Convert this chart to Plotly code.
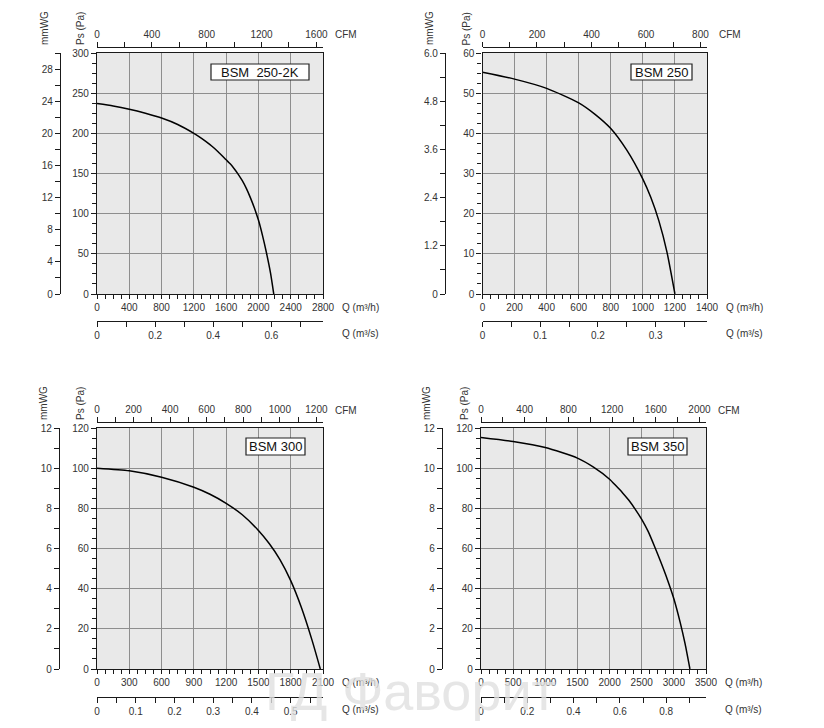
import plotly.graph_objects as go

# The page body has an 8 px margin, so the figure is drawn 8 px in from the
# window's top-left corner; all pixel positions below are window pixels.
OFF = 8
W, H = 824 - OFF, 728 - OFF
FONT = "Liberation Sans, Arial, sans-serif"

# ---------------- data ----------------
model_names = ["BSM\u00a0 250-2K", "BSM 250", "BSM 300", "BSM 350"]

q_250_2k = [0, 200, 400, 600, 800, 1000, 1200, 1300, 1400, 1450, 1500, 1550, 1600, 1650,
            1700, 1750, 1800, 1850, 1900, 1950, 2000, 2050, 2100, 2150, 2190]
p_250_2k = [237, 234, 230, 225, 219, 211, 200, 193.5, 186, 181.7, 177, 172.2, 167, 162,
            156, 149, 141, 131.5, 120, 107, 92, 73, 51, 26, 0]

q_250 = [0, 200, 400, 600, 700, 800, 900, 1000, 1050, 1100, 1150, 1200]
p_250 = [55.2, 53.5, 51.2, 47.6, 44.8, 41.2, 35.8, 28.6, 24.0, 18.2, 10.5, 0]

q_300 = [0, 300, 600, 900, 1050, 1200, 1350, 1500, 1600, 1700, 1800, 1900, 2000, 2075]
p_300 = [100, 98.7, 95.5, 90.5, 87, 82.5, 76.8, 69, 62.5, 54.5, 44, 30.5, 14, 0]

q_350 = [0, 500, 1000, 1500, 1750, 2000, 2100, 2200, 2300, 2400, 2500, 2600, 2700,
         2800, 2900, 3000, 3100, 3175, 3250]
p_350 = [115.3, 113.3, 110.3, 105, 100.5, 94.5, 91.2, 87.8, 84, 79.5, 74.5, 68.5, 61,
         53, 44.5, 35, 23, 12.5, 0]

# axis ranges and tick steps per panel
q_max = [2800, 1400, 2100, 3500]          # m3/h
p_max = [300, 60, 120, 120]               # Pa
q_major = [400, 200, 300, 500]
q_minor = [100, 50, 75, 125]
p_major = [50, 10, 20, 20]
p_minor = [12.5, 2.5, 5, 5]
cfm_major = [400, 200, 200, 400]
cfm_minor = [200, 100, 100, 200]
m3s_major = [0.2, 0.1, 0.1, 0.2]
m3s_minor = [0.1, 0.05, 0.05, 0.1]
mmwg_ticks = [
    [0, 4, 8, 12, 16, 20, 24, 28],
    [0, 1.2, 2.4, 3.6, 4.8, 6.0],
    [0, 2, 4, 6, 8, 10, 12],
    [0, 2, 4, 6, 8, 10, 12],
]
mmwg_ticktext = [
    ["0", "4", "8", "12", "16", "20", "24", "28"],
    ["0", "1.2", "2.4", "3.6", "4.8", "6.0"],
    ["0", "2", "4", "6", "8", "10", "12"],
    ["0", "2", "4", "6", "8", "10", "12"],
]
mmwg_minor = [2, 0.6, 1, 1]

M3H_PER_CFM = 1.699
PA_PER_MMWG = 10.0

series_q = [q_250_2k, q_250, q_300, q_350]
series_p = [p_250_2k, p_250, p_300, p_350]

# ---------------- layout geometry (window pixels) ----------------
geom = [(97, 323, 53, 294), (482.5, 707, 53, 294),
        (97, 323, 428, 669), (481, 706, 428, 669)]
cfm_line_y = [46.7, 46.7, 422.3, 422.3]
m3s_line_y = [321, 321, 696.7, 696.7]
mmwg_line_x = [60, 445, 59, 442]
box_geom = [(211, 309, 64, 80), (631, 692, 64, 80),
            (246, 305, 438, 455), (628, 687, 438, 455)]


def px(x):
    return (x - OFF) / W


def py(y):
    return 1 - (y - OFF) / H


def xr(n):
    return "x" if n == 1 else f"x{n}"


def yr(n):
    return "y" if n == 1 else f"y{n}"


def xk(n):
    return "xaxis" if n == 1 else f"xaxis{n}"


def yk(n):
    return "yaxis" if n == 1 else f"yaxis{n}"


TICKFONT = dict(family=FONT, size=10, color="#333")
LINE = "#1a1a1a"
GRID = "#8e8e8e"

fig = go.Figure()
layout = dict(
    width=W, height=H, margin=dict(l=0, r=0, t=0, b=0, pad=0, autoexpand=False),
    paper_bgcolor="white", plot_bgcolor="#e9e9e9", showlegend=False,
    font=dict(family=FONT, color="#333"),
)
annotations = []

for i in range(4):
    k = i + 1
    L, R, T, B = geom[i]
    xd = [px(L), px(R)]
    yd = [py(B), py(T)]

    fig.add_trace(go.Scatter(
        x=series_q[i], y=series_p[i], mode="lines",
        line=dict(color="black", width=1.5, shape="spline", smoothing=0.6),
        xaxis=xr(k), yaxis=yr(k), hoverinfo="skip"))
    fig.add_trace(go.Scatter(x=[None], y=[None], xaxis=xr(4 + k), yaxis=yr(k),
                             hoverinfo="skip"))
    fig.add_trace(go.Scatter(x=[None], y=[None], xaxis=xr(8 + k), yaxis=yr(k),
                             hoverinfo="skip"))
    fig.add_trace(go.Scatter(x=[None], y=[None], xaxis=xr(k), yaxis=yr(4 + k),
                             hoverinfo="skip"))

    common = dict(automargin=False, zeroline=False, tickfont=TICKFONT,
                  tickwidth=1, tickcolor=LINE, showline=True, linecolor=LINE,
                  linewidth=1.3)

    layout[xk(k)] = dict(
        domain=xd, anchor=yr(k), range=[0, q_max[i]],
        tick0=0, dtick=q_major[i], showgrid=True, gridcolor=GRID, gridwidth=1.2,
        ticks="outside", ticklen=4, mirror=True,
        minor=dict(tick0=0, dtick=q_minor[i], ticks="outside", ticklen=4,
                   tickwidth=1, tickcolor=LINE, showgrid=False),
        **common)
    layout[yk(k)] = dict(
        domain=yd, anchor=xr(k), range=[0, p_max[i]],
        tick0=0, dtick=p_major[i], showgrid=True, gridcolor=GRID, gridwidth=1.2,
        ticks="outside", ticklen=5, mirror=True,
        minor=dict(tick0=0, dtick=p_minor[i], ticks="outside", ticklen=4,
                   tickwidth=1, tickcolor=LINE, showgrid=False),
        **common)
    layout[xk(4 + k)] = dict(
        domain=xd, overlaying=xr(k), anchor="free", position=py(cfm_line_y[i]),
        side="top", range=[0, q_max[i] / M3H_PER_CFM],
        tick0=0, dtick=cfm_major[i], showgrid=False, ticks="outside", ticklen=5,
        minor=dict(tick0=0, dtick=cfm_minor[i], ticks="outside", ticklen=5,
                   tickwidth=1, tickcolor=LINE, showgrid=False),
        **common)
    layout[xk(8 + k)] = dict(
        domain=xd, overlaying=xr(k), anchor="free", position=py(m3s_line_y[i]),
        side="bottom", range=[0, q_max[i] / 3600.0],
        tick0=0, dtick=m3s_major[i], showgrid=False, ticks="outside", ticklen=5,
        minor=dict(tick0=0, dtick=m3s_minor[i], ticks="outside", ticklen=5,
                   tickwidth=1, tickcolor=LINE, showgrid=False),
        **common)
    layout[yk(4 + k)] = dict(
        domain=yd, overlaying=yr(k), anchor="free", position=px(mmwg_line_x[i]),
        side="left", range=[0, p_max[i] / PA_PER_MMWG],
        tickmode="array", tickvals=mmwg_ticks[i], ticktext=mmwg_ticktext[i],
        showgrid=False, ticks="outside", ticklen=5,
        minor=dict(tick0=0, dtick=mmwg_minor[i], ticks="outside", ticklen=5,
                   tickwidth=1, tickcolor=LINE, showgrid=False),
        **common)

    ttl = dict(size=10, color="#333", family=FONT)
    annotations.append(dict(text="mmWG", x=px(mmwg_line_x[i] - 16), y=py(T - 25),
                            xref="paper", yref="paper", textangle=-90,
                            showarrow=False, font=ttl, xanchor="center", yanchor="middle"))
    annotations.append(dict(text="Ps (Pa)", x=px(L - 17), y=py(T - 24),
                            xref="paper", yref="paper", textangle=-90,
                            showarrow=False, font=ttl, xanchor="center", yanchor="middle"))
    annotations.append(dict(text="CFM", x=px(R + 10), y=py(cfm_line_y[i] - 12),
                            xref="paper", yref="paper", showarrow=False, font=ttl,
                            xanchor="left", yanchor="middle"))
    annotations.append(dict(text="Q (m³/h)", x=px(R + 17), y=py(B + 13.5),
                            xref="paper", yref="paper", showarrow=False, font=ttl,
                            xanchor="left", yanchor="middle"))
    annotations.append(dict(text="Q (m³/s)", x=px(R + 17), y=py(m3s_line_y[i] + 13),
                            xref="paper", yref="paper", showarrow=False, font=ttl,
                            xanchor="left", yanchor="middle"))

    bl, br, bt, bb = box_geom[i]
    fig.add_shape(type="rect", xref="paper", yref="paper",
                  x0=px(bl), x1=px(br), y0=py(bb), y1=py(bt),
                  fillcolor="white", line=dict(color="#222", width=1.2))
    annotations.append(dict(text=model_names[i], x=px((bl + br) / 2), y=py((bt + bb) / 2),
                            xref="paper", yref="paper", showarrow=False,
                            font=dict(size=13, color="#111", family=FONT),
                            xanchor="center", yanchor="middle"))

# faint watermark
annotations.append(dict(text="ГД Фаворит", x=px(410), y=py(691), xref="paper", yref="paper",
                        showarrow=False, xanchor="center", yanchor="middle",
                        font=dict(size=54, color="rgba(224,224,224,0.8)", family=FONT)))

layout["annotations"] = annotations
fig.update_layout(**layout)
fig.write_html("out.html")
